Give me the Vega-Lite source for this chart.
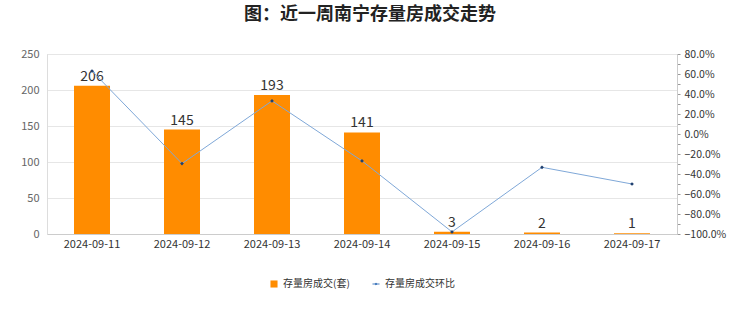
{
  "$schema": "https://vega.github.io/schema/vega-lite/v6.json",
  "autosize": {"type": "none"},
  "padding": {"left": 47, "top": 54, "right": 63, "bottom": 78},
  "width": 630,
  "height": 180,
  "background": "white",
  "title": {
    "text": "图：近一周南宁存量房成交走势",
    "fontSize": 18,
    "fontWeight": "bold",
    "font": "Noto Sans CJK SC",
    "color": "#222",
    "anchor": "middle",
    "dx": 8,
    "offset": 24
  },
  "config": {
    "axis": {"labelOverlap": false},
    "legend": {"layout": {"bottom": {"anchor": "middle"}}}
  },
  "data": {
    "values": [
      {"date": "2024-09-11", "count": 206, "pct": 63.0},
      {"date": "2024-09-12", "count": 145, "pct": -29.6},
      {"date": "2024-09-13", "count": 193, "pct": 33.1},
      {"date": "2024-09-14", "count": 141, "pct": -26.9},
      {"date": "2024-09-15", "count": 3, "pct": -97.9},
      {"date": "2024-09-16", "count": 2, "pct": -33.3},
      {"date": "2024-09-17", "count": 1, "pct": -50.0}
    ]
  },
  "encoding": {
    "x": {
      "field": "date",
      "type": "nominal",
      "scale": {"paddingInner": 0.6, "paddingOuter": 0.3},
      "axis": {
        "title": null,
        "labelAngle": 0,
        "ticks": false,
        "labelFontSize": 11,
        "labelColor": "#333",
        "labelPadding": 4,
        "domainColor": "#ccc",
        "labelFont": "Noto Sans CJK SC"
      }
    }
  },
  "layer": [
    {
      "encoding": {
        "y": {
          "field": "count",
          "type": "quantitative",
          "scale": {"domain": [0, 250], "nice": false},
          "axis": {
            "title": null,
            "values": [0, 50, 100, 150, 200, 250],
            "labelOverlap": false,
            "ticks": false,
            "grid": true,
            "gridColor": "#e6e6e6",
            "domainColor": "#ddd",
            "labelColor": "#666",
            "labelFontSize": 11,
            "labelPadding": 8,
            "labelFont": "Noto Sans CJK SC"
          }
        }
      },
      "layer": [
        {
          "mark": {"type": "bar"},
          "encoding": {
            "color": {
              "datum": "存量房成交(套)",
              "type": "nominal",
              "scale": {"domain": ["存量房成交(套)", "存量房成交环比"], "range": ["#FF8C00", "#2E5A8C"]},
              "legend": {
                "title": null,
                "orient": "bottom",
                "direction": "horizontal",
                "offset": 30,
                "labelFontSize": 10,
                "labelColor": "#333",
                "labelFont": "Noto Sans CJK SC",
                "symbolSize": 50,
                "columnPadding": 20,
                "encode": {
                  "symbols": {
                    "update": {
                      "shape": {"signal": "datum.value === '存量房成交(套)' ? 'square' : 'M-1,0L1,0M0,-0.3L0.3,0L0,0.3L-0.3,0Z'"},
                      "fill": {"signal": "datum.value === '存量房成交(套)' ? '#F29A2E' : '#2E5A8C'"},
                      "stroke": {"signal": "datum.value === '存量房成交(套)' ? null : '#4A7FC0'"},
                      "strokeWidth": {"value": 1}
                    }
                  }
                }
              }
            }
          }
        },
        {
          "mark": {"type": "text", "dy": -9, "fontSize": 14, "color": "#333", "font": "Noto Sans CJK SC"},
          "encoding": {
            "text": {"field": "count", "type": "quantitative"}
          }
        }
      ]
    },
    {
      "encoding": {
        "y": {
          "field": "pct",
          "type": "quantitative",
          "scale": {"domain": [-100, 80], "nice": false},
          "axis": {
            "title": null,
            "orient": "right",
            "values": [-100, -90, -80, -70, -60, -50, -40, -30, -20, -10, 0, 10, 20, 30, 40, 50, 60, 70, 80],
            "labelExpr": "datum.value % 20 === 0 ? format(datum.value, '.1f') + '%' : ''",
            "labelOverlap": false,
            "tickSize": 3,
            "tickColor": "#999",
            "domainColor": "#ccc",
            "grid": false,
            "labelColor": "#333",
            "labelFontSize": 10.5,
            "labelPadding": 4,
            "labelFont": "Noto Sans CJK SC"
          }
        }
      },
      "layer": [
        {
          "mark": {"type": "line", "color": "#7FA8D8", "strokeWidth": 1}
        },
        {
          "mark": {"type": "point", "shape": "diamond", "filled": true, "size": 14, "color": "#1F3F6F", "opacity": 1}
        }
      ]
    }
  ],
  "resolve": {"scale": {"y": "independent"}}
}
